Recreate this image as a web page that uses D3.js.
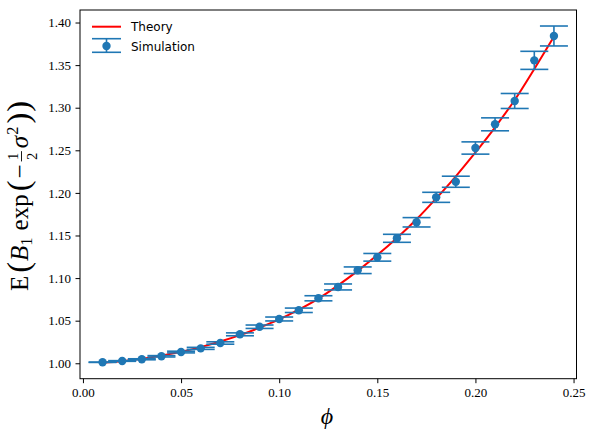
<!DOCTYPE html>
<meta charset="utf-8">
<script src="https://d3js.org/d3.v7.min.js"></script>
<style type="text/css">
body { margin: 0; background: white; }
.tick text { font-family: "Liberation Serif", serif; font-size: 13px; fill: #000; }
.legend text { font-family: "DejaVu Sans", sans-serif; font-size: 12px; }
</style>
<body>
<div id="chart"></div>
</body>
<script>

  const outerWidth = 595;
  const outerHeight = 439;
  const blue = "#1f77b4";

  // ---------------------------//
  //            DATA            //
  // ---------------------------//

  const phi = [0.01, 0.02, 0.03, 0.04, 0.05, 0.06, 0.07, 0.08, 0.09, 0.10, 0.11, 0.12,
               0.13, 0.14, 0.15, 0.16, 0.17, 0.18, 0.19, 0.20, 0.21, 0.22, 0.23, 0.24];

  const simMean = [1.0012, 1.0027, 1.0047, 1.0082, 1.0132, 1.0175, 1.0238, 1.0340,
                   1.0429, 1.0520, 1.0622, 1.0763, 1.0896, 1.1092, 1.1244, 1.1467,
                   1.1655, 1.1948, 1.2131, 1.2527, 1.2805, 1.3079, 1.3556, 1.3842];

  const simErr = [0.0002, 0.0004, 0.0006, 0.0008, 0.0010, 0.0012, 0.0014, 0.0017,
                  0.0020, 0.0023, 0.0026, 0.0030, 0.0035, 0.0039, 0.0045, 0.0047,
                  0.0055, 0.0059, 0.0065, 0.0072, 0.0076, 0.0088, 0.0106, 0.0117];

  const theory = [1.0006, 1.0024, 1.0052, 1.0090, 1.0135, 1.0190, 1.0255, 1.0330,
                  1.0418, 1.0515, 1.0630, 1.0760, 1.0915, 1.1085, 1.1270, 1.1470,
                  1.1690, 1.1935, 1.2195, 1.2475, 1.2770, 1.3090, 1.3455, 1.3835];

  const xTicks = [0.00, 0.05, 0.10, 0.15, 0.20, 0.25];
  const yTicks = [1.00, 1.05, 1.10, 1.15, 1.20, 1.25, 1.30, 1.35, 1.40];

  // ---------------------------//
  //        SCALES & AXES       //
  // ---------------------------//

  const x = d3.scaleLinear().domain([-0.0015, 0.2515]).range([80, 576.5]);
  const y = d3.scaleLinear().domain([0.9819, 1.4147]).range([378.7, 10]);

  const SVG = d3.select("#chart").append("svg")
    .attr("width", outerWidth)
    .attr("height", outerHeight);

  SVG.append("g")
    .attr("transform", "translate(0," + y.range()[0] + ")")
    .call(d3.axisBottom(x).tickValues(xTicks).tickFormat(d3.format(".2f"))
      .tickSize(4.5).tickPadding(4.5))
    .call(g => g.select(".domain").remove());

  SVG.append("g")
    .attr("transform", "translate(" + x.range()[0] + ",0)")
    .call(d3.axisLeft(y).tickValues(yTicks).tickFormat(d3.format(".2f"))
      .tickSize(4.5).tickPadding(4.5))
    .call(g => g.select(".domain").remove());

  SVG.selectAll(".tick line").attr("stroke", "#000").attr("stroke-width", 1);

  // frame
  SVG.append("rect")
    .attr("x", x.range()[0])
    .attr("y", y.range()[1])
    .attr("width", x.range()[1] - x.range()[0])
    .attr("height", y.range()[0] - y.range()[1])
    .attr("fill", "none")
    .attr("stroke", "#000")
    .attr("stroke-width", 1);

  // ---------------------------//
  //          MARKS             //
  // ---------------------------//

  const theoryLine = d3.line()
    .x((d, i) => x(phi[i]))
    .y(d => y(d))
    .curve(d3.curveMonotoneX);

  SVG.append("path")
    .datum(theory)
    .attr("d", theoryLine)
    .attr("fill", "none")
    .attr("stroke", "red")
    .attr("stroke-width", 2);

  const capHalf = 14;
  const sim = phi.map((p, i) => ({phi: p, mean: simMean[i], err: simErr[i]}));

  const bars = SVG.append("g").selectAll("g")
    .data(sim)
    .enter()
    .append("g")
    .attr("stroke", blue)
    .attr("stroke-width", 1.6);

  bars.append("line")
    .attr("x1", d => x(d.phi)).attr("x2", d => x(d.phi))
    .attr("y1", d => y(d.mean - d.err)).attr("y2", d => y(d.mean + d.err));

  bars.append("line")
    .attr("x1", d => x(d.phi) - capHalf).attr("x2", d => x(d.phi) + capHalf)
    .attr("y1", d => y(d.mean + d.err)).attr("y2", d => y(d.mean + d.err));

  bars.append("line")
    .attr("x1", d => x(d.phi) - capHalf).attr("x2", d => x(d.phi) + capHalf)
    .attr("y1", d => y(d.mean - d.err)).attr("y2", d => y(d.mean - d.err));

  SVG.append("g").selectAll("circle")
    .data(sim)
    .enter()
    .append("circle")
    .attr("cx", d => x(d.phi))
    .attr("cy", d => y(d.mean))
    .attr("r", 4.2)
    .attr("fill", blue);

  // ---------------------------//
  //          LEGEND            //
  // ---------------------------//

  const legend = SVG.append("g").classed("legend", true);

  legend.append("line")
    .attr("x1", 92).attr("x2", 121).attr("y1", 26.7).attr("y2", 26.7)
    .attr("stroke", "red").attr("stroke-width", 2);
  legend.append("text").attr("x", 131).attr("y", 31).text("Theory");

  const lg = legend.append("g").attr("stroke", blue).attr("stroke-width", 1.6);
  lg.append("line").attr("x1", 106.5).attr("x2", 106.5).attr("y1", 38.7).attr("y2", 52.3);
  lg.append("line").attr("x1", 92).attr("x2", 121).attr("y1", 38.7).attr("y2", 38.7);
  lg.append("line").attr("x1", 92).attr("x2", 121).attr("y1", 52.3).attr("y2", 52.3);
  legend.append("circle").attr("cx", 106.5).attr("cy", 46).attr("r", 4.2).attr("fill", blue);
  legend.append("text").attr("x", 131).attr("y", 51).text("Simulation");

  // ---------------------------//
  //        AXIS LABELS         //
  // ---------------------------//

  SVG.append("text")
    .attr("x", 327)
    .attr("y", 424)
    .attr("text-anchor", "middle")
    .style("font-family", "Liberation Serif")
    .style("font-style", "italic")
    .style("font-size", "24px")
    .text("\u03D5");

  // y label: E(B_1 exp(-1/2 sigma^2)) laid out piece by piece
  const F = 25;
  const ylab = SVG.append("g")
    .attr("transform", "translate(28,196) rotate(-90)")
    .style("font-family", "Liberation Serif");

  const pieces = [
    {t: "E", s: F, gap: 3},
    {t: "(", s: F * 1.3, dy: 1, gap: 1},
    {t: "B", s: F, it: true, gap: 0},
    {t: "1", s: F * 0.66, dy: 4, gap: 7},
    {t: "exp", s: F, gap: 3},
    {t: "(", s: F * 1.3, dy: 1, gap: 2},
    {t: "\u2212", s: F, gap: 3},
    {frac: true, s: F * 0.58},
    {t: "\u03C3", s: F, it: true, gap: 1},
    {t: "2", s: F * 0.66, dy: -10, gap: 3},
    {t: ")", s: F * 1.3, dy: 1, gap: 1},
    {t: ")", s: F * 1.3, dy: 1}
  ];

  let cx = 0;
  pieces.forEach(p => {
    if (p.frac) {
      const num = ylab.append("text").attr("y", -10.5).style("font-size", p.s + "px").text("1");
      const den = ylab.append("text").attr("y", 8.5).style("font-size", p.s + "px").text("2");
      const w = Math.max(num.node().getComputedTextLength(), den.node().getComputedTextLength());
      num.attr("x", cx + 1.5);
      den.attr("x", cx + 1.5);
      ylab.append("line").attr("x1", cx).attr("x2", cx + w + 3)
        .attr("y1", -6.5).attr("y2", -6.5).attr("stroke", "#000").attr("stroke-width", 0.9);
      cx += w + 6;
      return;
    }
    const t = ylab.append("text")
      .attr("x", cx)
      .attr("y", p.dy || 0)
      .style("font-size", p.s + "px")
      .style("font-style", p.it ? "italic" : "normal")
      .text(p.t);
    cx += t.node().getComputedTextLength() + (p.gap || 0);
  });

  // centre the label along the axis
  ylab.selectAll("*").each(function () {
    const sel = d3.select(this);
    if (this.tagName === "line") {
      sel.attr("x1", +sel.attr("x1") - cx / 2).attr("x2", +sel.attr("x2") - cx / 2);
    } else {
      sel.attr("x", +sel.attr("x") - cx / 2);
    }
  });

</script>
